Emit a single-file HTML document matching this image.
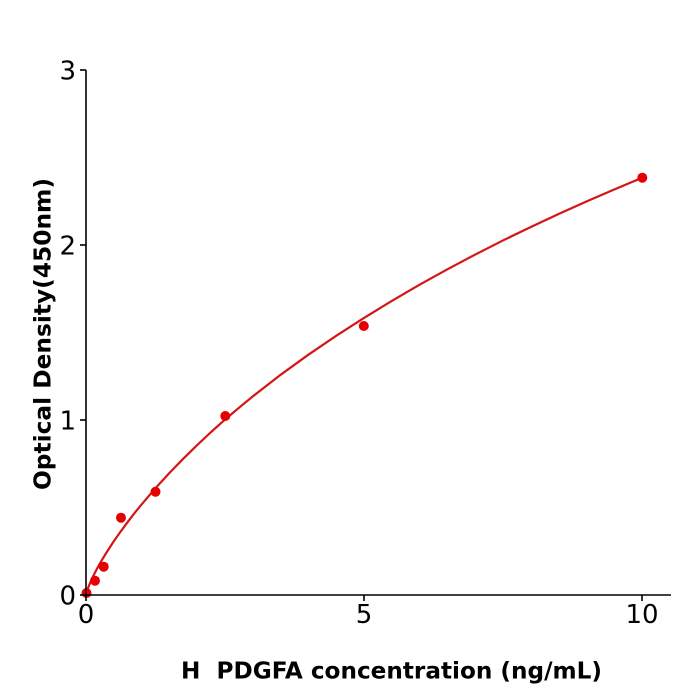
<!DOCTYPE html>
<html>
<head>
<meta charset="utf-8">
<style>
html,body{margin:0;padding:0;background:#fff;}
svg{display:block;}
text{font-family:"DejaVu Sans","Liberation Sans",sans-serif;fill:#000;}
</style>
</head>
<body>
<svg width="700" height="700" viewBox="0 0 700 700" xmlns="http://www.w3.org/2000/svg">
<rect width="700" height="700" fill="#fff"/>

<!-- fitted curve -->
<path d="M86,595 L86.56,592.5 L87.11,590.68 L88.78,586.08 L91.56,579.62 L94.34,573.85 L97.12,568.52 L101.0,561.57 L105.46,554.14 L113.8,541.28 L119.4,533.3 L127.7,521.94 L134.65,512.98 L141.6,504.42 L155.5,488.16 L169.4,473.0 L183.3,458.68 L197.2,445.06 L211.1,432.0 L225,419.61 L238.9,407.8 L252.8,396.38 L280.6,374.8 L308.4,354.68 L336.2,335.78 L364,317.93 L391.8,300.9 L419.6,284.69 L447.4,269.3 L475.2,254.55 L503.0,240.45 L530.8,226.97 L558.6,214.0 L586.4,201.47 L614.2,189.5 L642,177.81"
 fill="none" stroke="#d41515" stroke-width="2.2" stroke-linejoin="round" stroke-linecap="round"/>

<!-- data points -->
<g fill="#e60000">
<circle cx="86.5" cy="593" r="5"/>
<circle cx="95" cy="580.7" r="5"/>
<circle cx="103.7" cy="566.7" r="5"/>
<circle cx="121" cy="517.7" r="5"/>
<circle cx="155.5" cy="491.8" r="5"/>
<circle cx="225.3" cy="416" r="5"/>
<circle cx="363.8" cy="326" r="5"/>
<circle cx="642.3" cy="177.7" r="5"/>
</g>

<!-- axes -->
<g stroke="#000" stroke-width="1.6" fill="none">
<line x1="86" y1="70" x2="86" y2="595.8"/>
<line x1="85.2" y1="595" x2="671" y2="595"/>
<line x1="80" y1="595" x2="86" y2="595"/>
<line x1="80" y1="420" x2="86" y2="420"/>
<line x1="80" y1="245" x2="86" y2="245"/>
<line x1="80" y1="70" x2="86" y2="70"/>
<line x1="86" y1="595" x2="86" y2="601"/>
<line x1="364" y1="595" x2="364" y2="601"/>
<line x1="642" y1="595" x2="642" y2="601"/>
</g>

<!-- y tick labels -->
<g font-size="26" text-anchor="end">
<text x="76" y="604.5">0</text>
<text x="76" y="429.5">1</text>
<text x="76" y="254.5">2</text>
<text x="76" y="79.5">3</text>
</g>

<!-- x tick labels -->
<g font-size="26" text-anchor="middle">
<text x="86" y="623">0</text>
<text x="364" y="623">5</text>
<text x="642" y="623">10</text>
</g>

<!-- axis labels -->
<text x="391.5" y="678.5" font-size="23" font-weight="bold" text-anchor="middle" textLength="421" lengthAdjust="spacingAndGlyphs" xml:space="preserve">H  PDGFA concentration (ng/mL)</text>
<text transform="translate(50.5,334) rotate(-90)" x="0" y="0" font-size="23" font-weight="bold" text-anchor="middle" textLength="312" lengthAdjust="spacingAndGlyphs">Optical Density(450nm)</text>
</svg>
</body>
</html>
